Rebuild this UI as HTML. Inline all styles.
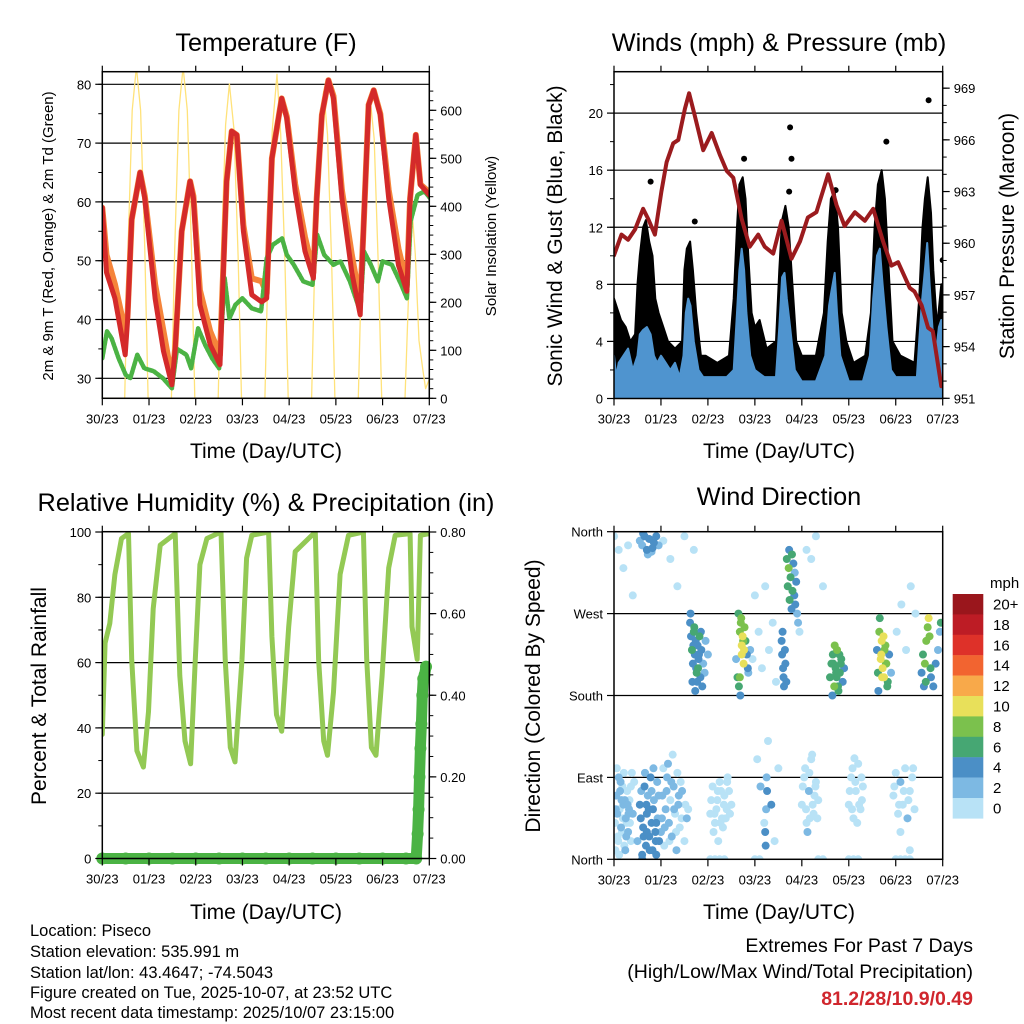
<!DOCTYPE html>
<html><head><meta charset="utf-8"><title>Piseco station meteogram</title>
<style>
html,body{margin:0;padding:0;background:#fff;}
svg{display:block;font-family:"Liberation Sans",Arial,sans-serif;}
</style></head>
<body>
<svg id="chart" width="1024" height="1024" viewBox="0 0 1024 1024">
<defs>
<clipPath id="c1"><rect x="102.3" y="71.7" width="327" height="326.6"/></clipPath>
<clipPath id="c2"><rect x="614" y="71.7" width="328.7" height="326.8"/></clipPath>
<clipPath id="c3"><rect x="102.3" y="531.7" width="327" height="328"/></clipPath>
<clipPath id="c4"><rect x="614" y="531.7" width="328.7" height="327.6"/></clipPath>
</defs>
<g id="root"></g>
<text x="266" y="51" font-size="25.3" text-anchor="middle">Temperature (F)</text>
<text x="779" y="51" font-size="25.3" text-anchor="middle">Winds (mph) &amp; Pressure (mb)</text>
<text x="266" y="511" font-size="25.3" text-anchor="middle">Relative Humidity (%) &amp; Precipitation (in)</text>
<text x="779" y="505" font-size="25.3" text-anchor="middle">Wind Direction</text>
<text x="266" y="458" font-size="21" text-anchor="middle">Time (Day/UTC)</text>
<text x="779" y="458" font-size="21" text-anchor="middle">Time (Day/UTC)</text>
<text x="266" y="919" font-size="21" text-anchor="middle">Time (Day/UTC)</text>
<text x="779" y="919" font-size="21" text-anchor="middle">Time (Day/UTC)</text>
<text transform="translate(53,236) rotate(-90)" font-size="15" text-anchor="middle">2m &amp; 9m T (Red, Orange) &amp; 2m Td (Green)</text>
<text transform="translate(496,236) rotate(-90)" font-size="15" text-anchor="middle">Solar Insolation (Yellow)</text>
<text transform="translate(562,236) rotate(-90)" font-size="21" text-anchor="middle">Sonic Wind &amp; Gust (Blue, Black)</text>
<text transform="translate(1014,236) rotate(-90)" font-size="21" text-anchor="middle">Station Pressure (Maroon)</text>
<text transform="translate(46,696) rotate(-90)" font-size="21" text-anchor="middle">Percent &amp; Total Rainfall</text>
<text transform="translate(540,696) rotate(-90)" font-size="21" text-anchor="middle">Direction (Colored By Speed)</text>
<g font-size="16.5">
<text x="30" y="936">Location: Piseco</text>
<text x="30" y="957">Station elevation: 535.991 m</text>
<text x="30" y="978">Station lat/lon: 43.4647; -74.5043</text>
<text x="30" y="998">Figure created on Tue, 2025-10-07, at 23:52 UTC</text>
<text x="30" y="1018">Most recent data timestamp: 2025/10/07 23:15:00</text>
</g>
<g font-size="19.5" text-anchor="end">
<text x="973" y="952">Extremes For Past 7 Days</text>
<text x="973" y="978">(High/Low/Max Wind/Total Precipitation)</text>
<text x="973" y="1005" fill="#d0262d" font-weight="bold">81.2/28/10.9/0.49</text>
</g>
</svg>
<script>
// ---- data ----
const dayLabels = ["30/23","01/23","02/23","03/23","04/23","05/23","06/23","07/23"];
const tempTicks = [30,40,50,60,70,80];
const solarTicks = [0,100,200,300,400,500,600];
const windTicks = [0,4,8,12,16,20];
const presTicks = [951,954,957,960,963,966,969];
const rhTicks = [0,20,40,60,80,100];
const precipTicks = [0,0.2,0.4,0.6,0.8];
const dirNames = ["North","East","South","West","North"];
const dirTicks = [0,90,180,270,360];

const tT = [0,0.09,0.27,0.49,0.54,0.63,0.81,0.91,1.13,1.31,1.49,1.56,1.7,1.88,1.95,2.09,2.31,2.52,2.66,2.77,2.88,3.02,3.2,3.41,3.52,3.63,3.84,3.95,4.13,4.34,4.52,4.59,4.7,4.84,4.95,5.13,5.34,5.52,5.59,5.7,5.81,5.95,6.13,6.34,6.52,6.59,6.71,6.81,7.02];
const redT = [59,48,43.6,34,39.7,57,65,60.6,43.6,34.6,28.9,35,55,63.5,60.6,42.5,35.7,32.3,63.5,72,71.4,55,44.2,43,43.6,67.4,77.6,74.2,61.8,51.6,47,60.6,74.8,80.7,77.6,60.6,48,40.8,55,76.5,79,74.8,60.6,49.2,44.8,60.6,71.4,62.9,61];
const orangeT = [59,51,46,38,40.5,57,65,61,46,38,30,35,55,63.5,61,45,38,34,63.5,72,71.4,56,47,46.5,44.5,67.4,77.6,74.5,63,54,48,60.6,74.8,80.7,78,62,51,43,55,76.5,79,75,62,52,46,60.6,71.4,63,61.5];
const tdT = [0,0.1,0.2,0.35,0.5,0.6,0.75,0.9,1.1,1.3,1.49,1.6,1.8,1.9,2.05,2.2,2.35,2.5,2.62,2.72,2.85,3.0,3.2,3.4,3.52,3.65,3.85,3.95,4.1,4.3,4.5,4.6,4.75,4.95,5.1,5.3,5.52,5.6,5.75,5.9,6.0,6.2,6.4,6.52,6.6,6.75,6.9,7.02];
const dewT = [33.4,38,36.8,33.4,30.6,30,34,31.7,31.2,30,28.3,35,34,31.7,38.5,35.7,33.4,31.7,47,40.2,42.5,43.6,41.9,41.4,50.4,52.7,53.8,51,49.3,46.5,45.9,54.4,51,49.3,49.9,46.5,41.4,51.6,49.3,46.5,49.9,49.3,45.9,43.6,56.7,61.2,61.8,60.6];
const solarT = [0,0.48,0.55,0.64,0.73,0.82,0.91,0.98,1.48,1.55,1.64,1.73,1.82,1.91,1.98,2.48,2.55,2.64,2.72,2.82,2.91,2.98,3.48,3.55,3.64,3.74,3.82,3.91,3.98,4.48,4.55,4.64,4.74,4.82,4.91,4.98,5.48,5.55,5.64,5.74,5.82,5.91,5.98,6.48,6.55,6.64,6.7,6.78,6.86,6.92,7.0];
const solarV = [0,0,310,600,690,600,310,0,0,310,600,690,600,310,0,0,300,570,655,560,290,0,0,290,560,675,550,280,0,0,290,560,640,550,280,0,0,280,550,620,540,270,0,0,200,380,300,120,60,20,40];

const presT = [0,0.16,0.3,0.45,0.62,0.73,0.87,1.01,1.12,1.26,1.37,1.51,1.6,1.72,1.9,2.08,2.26,2.4,2.54,2.72,2.89,3.07,3.21,3.39,3.57,3.78,3.96,4.13,4.31,4.56,4.74,4.91,5.13,5.34,5.52,5.73,5.91,6.05,6.3,6.4,6.55,6.69,6.79,6.97];
const presV = [959.3,960.5,960.2,960.8,962,961.4,960.5,963,964.7,965.8,966,967.8,968.7,967.4,965.4,966.4,965.1,964.2,963.8,961.4,959.8,960.5,959.8,959.4,961.3,959.1,960.1,961.5,961.8,964,962.2,961,961.8,961.3,962,960.1,958.7,958.9,957.4,957.2,956.4,955.1,954.9,951.7];
const windT = [0,0.05,0.1,0.2,0.3,0.4,0.5,0.55,0.62,0.7,0.78,0.85,0.92,1.0,1.1,1.2,1.3,1.4,1.48,1.53,1.58,1.63,1.7,1.8,1.9,2.0,2.2,2.4,2.55,2.62,2.67,2.72,2.77,2.82,2.9,3.0,3.2,3.45,3.52,3.58,3.63,3.68,3.75,3.85,4.0,4.3,4.5,4.58,4.63,4.7,4.75,4.82,5.0,5.3,5.45,5.52,5.6,5.66,5.72,5.8,5.9,6.0,6.2,6.45,6.5,6.55,6.62,6.67,6.72,6.78,6.85,6.92,6.97];
const windV = [3,1.5,2.5,3,3.5,2,3,4.5,4.8,5,4.5,3,2.5,3,2.5,2,2.5,1.5,3,6,7,6.5,4,2,1.5,1.5,1.5,1.5,2,6,9,10.5,9,6,3,2,1.5,1.5,5,8.5,8.8,7,5,2,1.2,1.2,3,6.5,7.5,8.8,6,3,1.2,1.2,3,7,10,10.5,8,5,2,1.5,1.5,1.5,4,6.5,9,10.9,8,5,3,5,5.5];
const gustT = [0,0.05,0.15,0.25,0.35,0.45,0.5,0.55,0.62,0.68,0.75,0.82,0.88,0.95,1.05,1.15,1.3,1.45,1.5,1.55,1.62,1.68,1.75,1.85,1.95,2.2,2.45,2.55,2.62,2.67,2.74,2.8,2.86,2.93,3.0,3.1,3.25,3.45,3.52,3.58,3.65,3.72,3.8,3.88,4.0,4.3,4.47,4.55,4.62,4.7,4.77,4.85,4.95,5.1,5.35,5.47,5.55,5.62,5.7,5.77,5.85,5.93,6.1,6.4,6.5,6.57,6.62,6.68,6.75,6.8,6.88,6.97];
const gustV = [7,6.5,5.5,5,4,4.5,8,10,12,12.5,11,10,7,6,5,4,3.5,4,9,10.5,11,9,6,3,3,2.5,3,7,12,15,15.5,14,10,6,5,5.5,3.5,4,9,12.5,13.5,12,8,4,3,3,6,11,14,14.5,12,6,4,2.5,3,6,12,15,16,14,9,4,3,2.5,7,12,14,15.5,13,9,5,8];
const gustOutT = [0.78,1.72,2.77,3.75,3.78,5.8,6.7,7.0,3.73,4.72];
const gustOutV = [15.2,12.4,16.8,19,16.8,18,20.9,9.7,14.5,14.6];

const rhT = [0,0.06,0.16,0.27,0.41,0.56,0.63,0.74,0.88,0.99,1.09,1.24,1.56,1.66,1.77,1.89,1.99,2.09,2.24,2.54,2.63,2.74,2.84,2.99,3.09,3.2,3.56,3.63,3.73,3.84,3.99,4.13,4.56,4.63,4.74,4.82,4.95,5.09,5.27,5.59,5.66,5.76,5.86,5.99,6.13,6.27,6.59,6.63,6.74,6.81,7.0];
const rhV = [38,66,72,87,98,99.5,61,33,28,45,76.5,96,99.5,56,36,29,61,90,98,100,61,34,29.6,61,92,99,100,68,44,39,71,94,100,61,36,31.6,51,87,99,100,61,34,31.6,56,89,99,99.5,71,61,99,99.5];
const precipT = [0,0.5,1,1.5,2,2.5,3,3.5,4,4.5,5,5.5,6,6.5,6.72,6.75,6.77,6.79,6.81,6.83,6.85,6.87,6.9,6.93];
const precipV = [0,0,0,0,0,0,0,0,0,0,0,0,0,0,0,0.06,0.12,0.2,0.27,0.33,0.4,0.44,0.45,0.47];

const wdT = [0.02,0.05,0.08,0.1,0.12,0.15,0.18,0.2,0.22,0.25,0.28,0.3,0.33,0.36,0.4,0.43,0.03,0.07,0.13,0.17,0.23,0.27,0.32,0.38,
0.5,0.55,0.6,0.62,0.65,0.68,0.7,0.72,0.75,0.78,0.8,0.82,0.85,0.88,0.9,0.93,0.96,0.58,0.66,0.74,0.84,0.92,
1.0,1.03,1.07,1.1,1.13,1.17,1.2,1.23,1.27,1.3,1.33,1.37,1.4,1.45,1.5,1.55,1.05,1.15,1.25,1.35,1.42,1.58,
0.55,0.6,0.65,0.7,0.75,0.8,0.85,0.9,0.95,0.62,0.72,0.82,
0.0,0.1,0.2,0.3,0.4,1.05,1.2,1.35,1.5,1.7,
1.62,1.64,1.66,1.68,1.7,1.72,1.74,1.76,1.78,1.8,1.82,1.84,1.86,1.9,1.95,2.0,1.67,1.73,1.79,1.85,1.63,1.88,1.93,
2.05,2.1,2.15,2.2,2.25,2.3,2.35,2.4,2.45,2.5,2.12,2.22,2.32,2.42,2.18,2.28,2.38,
2.6,2.63,2.66,2.68,2.7,2.72,2.74,2.76,2.78,2.8,2.83,2.86,2.9,2.95,2.65,2.71,2.77,2.85,2.69,
3.0,3.08,3.15,3.22,3.3,3.38,3.45,3.05,3.12,3.2,3.28,3.35,3.42,3.5,
3.57,3.58,3.6,3.61,3.62,3.64,3.65,3.67,3.59,3.22,3.24,3.26,3.25,3.23,
3.68,3.7,3.72,3.74,3.76,3.78,3.8,3.82,3.84,3.86,3.88,3.9,3.73,3.79,3.85,3.92,3.95,
4.0,4.05,4.1,4.15,4.2,4.25,4.3,4.35,4.07,4.17,4.27,4.12,4.22,4.1,4.2,4.3,4.45,
4.6,4.63,4.66,4.69,4.72,4.75,4.78,4.81,4.84,4.87,4.9,4.65,4.7,4.8,4.74,
5.0,5.05,5.1,5.15,5.2,5.25,5.3,5.08,5.18,5.28,5.12,
5.6,5.62,5.65,5.68,5.7,5.72,5.75,5.78,5.8,5.83,5.86,5.9,5.66,5.74,5.82,5.63,
5.95,6.0,6.05,6.1,6.15,6.2,6.25,6.3,6.35,6.4,6.02,6.12,6.22,6.32,6.42,6.1,6.3,
6.55,6.58,6.6,6.62,6.65,6.68,6.7,6.72,6.75,6.8,6.85,6.9,6.94,6.64,6.74,6.96,
2.05,2.15,2.25,2.35,3.0,3.1,4.35,4.45,5.0,5.1,5.2,6.0,6.1,6.2,6.3];
const wdDir = [40,70,25,90,55,35,80,60,15,45,75,30,65,20,50,85,10,50,75,30,65,40,55,95,
20,60,5,35,80,15,50,70,25,90,40,10,65,30,5,45,20,75,95,55,100,85,
30,70,15,55,90,40,65,25,80,50,10,60,35,75,20,45,100,105,115,95,85,55,
350,345,355,340,352,338,348,355,345,358,335,342,
355,340,320,345,290,350,330,300,355,340,
260,245,230,215,250,225,240,205,235,220,245,200,230,215,240,225,195,185,210,250,270,190,205,
50,80,40,65,85,45,70,55,75,60,30,20,35,90,55,75,45,
220,200,190,250,260,235,245,215,255,240,225,205,230,220,270,265,230,210,180,
290,250,210,300,230,260,195,110,80,40,130,60,20,100,
240,225,210,200,190,230,215,195,250,30,55,75,90,15,
330,300,320,285,310,275,295,325,290,280,305,270,340,335,315,260,250,
60,90,40,75,110,50,85,65,100,45,70,30,115,340,330,355,300,
200,215,225,190,210,230,185,205,220,195,210,180,235,225,200,
60,90,45,75,105,55,80,100,40,65,111,
230,205,250,220,240,210,200,235,215,195,225,205,265,245,190,185,
70,95,50,85,60,100,45,75,90,55,250,280,230,300,270,30,10,
205,225,190,215,240,255,265,245,200,190,215,230,250,195,210,260,
0,0,0,0,0,0,0,0,0,0,0,0,0,0,0];
const wdSpd = [0,2,0,2,0,2,0,2,0,2,0,2,0,0,2,0,0,2,2,0,2,0,2,0,
2,4,4,4,4,4,4,2,4,4,4,4,2,4,4,2,4,2,2,4,2,2,
2,2,0,2,2,2,0,2,2,0,2,2,0,2,0,2,0,2,0,0,0,0,
2,2,4,4,4,2,4,4,2,4,2,4,
0,0,0,0,0,0,0,0,0,0,
4,4,6,4,6,4,4,6,4,4,6,4,4,2,2,2,4,4,6,4,4,4,2,
0,0,0,0,0,0,0,0,0,0,0,0,0,0,0,0,0,
2,6,6,8,8,10,10,10,8,6,4,2,2,0,6,8,10,4,4,
0,0,0,0,0,0,0,0,2,0,0,4,0,0,
4,4,4,4,4,4,4,4,4,4,2,4,2,4,
6,6,8,6,6,4,6,4,4,4,4,2,4,6,2,2,0,
0,0,0,2,0,0,0,0,0,0,0,2,0,0,0,0,0,
6,6,6,8,6,8,6,6,6,4,4,4,8,6,6,
0,0,0,0,0,0,0,0,0,0,0,
4,6,8,10,10,10,10,8,8,6,4,2,6,10,6,4,
0,0,0,2,0,0,2,0,0,0,0,0,0,0,0,0,0,
4,6,4,8,8,8,10,8,4,4,4,2,2,6,6,6,
0,0,0,0,0,0,0,0,0,0,0,0,0,0,0];
const wdT2 = [0.04,0.09,0.14,0.19,0.24,0.29,0.34,0.06,0.16,0.26,0.36,0.11,0.21,0.31,
0.57,0.63,0.69,0.76,0.83,0.89,0.95,0.6,0.7,0.8,0.9,
1.02,1.08,1.12,1.18,1.22,1.28,1.32,1.38,1.44,1.52,
2.07,2.14,2.21,2.27,2.34,2.41,2.47,
4.02,4.09,4.16,4.23,4.29,4.33,
5.02,5.07,5.14,5.22,5.27,
5.97,6.07,6.17,6.27,6.37,
1.69,1.75,1.81,1.71,1.77,2.72,2.75,2.68,4.67,4.73,4.77,4.83,5.69,5.71,5.76,5.79];
const wdDir2 = [55,20,85,45,10,60,40,100,65,25,80,5,95,50,
45,25,60,10,55,20,70,0,30,75,40,
45,35,75,20,85,55,30,70,45,60,
65,50,75,40,60,85,50,
80,55,95,60,80,45,
75,55,85,60,90,
80,60,75,65,100,
235,210,225,255,195,225,240,200,215,205,190,215,225,200,230,215];
const wdSpd2 = [2,0,2,0,2,2,0,0,2,2,0,0,0,2,
4,4,4,4,4,4,2,4,4,2,4,
2,2,2,0,2,2,0,2,0,0,
0,0,0,0,0,0,0,
0,0,0,0,0,0,
0,0,0,0,0,
0,0,0,0,0,
4,4,4,6,4,10,8,8,6,6,6,6,10,10,8,8];
const cbLabels = ["20+","18","16","14","12","10","8","6","4","2","0"];
const cbColors = ["#9a161c","#bd1c25","#de3129","#f26430","#f8a94a","#e8e05a","#7bc14d","#46a773","#4b8fc6","#7db9e3","#b8e2f6"];

// ---- axes ----
const NS="http://www.w3.org/2000/svg";
const root=document.getElementById('root');
function mk(tag,attrs,parent){const e=document.createElementNS(NS,tag);for(const k in attrs)e.setAttribute(k,attrs[k]);(parent||root).appendChild(e);return e;}
const P1={x0:102.3,x1:429.3,y0:71.7,y1:398.3};
const P2={x0:614,x1:942.7,y0:71.7,y1:398.5};
const P3={x0:102.3,x1:429.3,y0:531.7,y1:858.5};
const P4={x0:614,x1:942.7,y0:531.7,y1:859.3};
function xs(P,t){return P.x0+t*(P.x1-P.x0)/7;}
const yTemp=v=>84.3+(80-v)*5.88;
const ySolar=v=>398.3-v*0.48;
const yWind=v=>398.5-v*14.27;
const yPres=v=>398.3-(v-951)*17.23;
const yRH=v=>858.5-v*3.265;
const yPrec=v=>858.5-v*125*3.265;
const yDir=v=>859.3-v*0.91;

function grid(P,vals,f,name){vals.forEach(v=>{const y=f(v);if(y>P.y0+1&&y<P.y1-1){const l=mk('line',{x1:P.x0,x2:P.x1,y1:y,y2:y,stroke:'#000','stroke-width':1.2});

}});}
function frame(P,name){const r=mk('rect',{x:P.x0,y:P.y0,width:P.x1-P.x0,height:P.y1-P.y0,fill:'none',stroke:'#000','stroke-width':1.5});


for(let i=0;i<=7;i++){const x=xs(P,i);mk('line',{x1:x,x2:x,y1:P.y1,y2:P.y1+7,stroke:'#000','stroke-width':1.2});mk('line',{x1:x,x2:x,y1:P.y0,y2:P.y0-6,stroke:'#000','stroke-width':1.2});
const t=mk('text',{x:x,y:P.y1+25,'font-size':13,'text-anchor':'middle'});t.textContent=dayLabels[i];

}}
function yaxis(P,vals,f,side,labels,minor,name){const x=side<0?P.x0:P.x1;
minor.forEach(v=>{const y=f(v);if(y>=P.y0-0.5&&y<=P.y1+0.5)mk('line',{x1:x,x2:x+side*4,y1:y,y2:y,stroke:'#000','stroke-width':1});});
vals.forEach((v,i)=>{const y=f(v);mk('line',{x1:x,x2:x+side*7,y1:y,y2:y,stroke:'#000','stroke-width':1.2});
const t=mk('text',{x:side<0?x-11:x+11,y:y+5,'font-size':13,'text-anchor':side<0?'end':'start'});t.textContent=labels[i];

});}
function line(ts,vs,P,f,style,name,clip){const d=ts.map((t,i)=>(i?'L':'M')+xs(P,t).toFixed(1)+','+f(vs[i]).toFixed(1)).join('');
const a=Object.assign({d:d,fill:'none','stroke-linejoin':'round','stroke-linecap':'round'},style);
if(clip)a['clip-path']='url(#'+clip+')';
const p=mk('path',a);

return p;}
function area(ts,vs,P,f,fill,name,clip){let d='M'+xs(P,ts[0])+','+f(0);ts.forEach((t,i)=>{d+='L'+xs(P,t).toFixed(1)+','+f(vs[i]).toFixed(1);});d+='L'+xs(P,ts[ts.length-1])+','+f(0)+'Z';
const p=mk('path',{d:d,fill:fill,stroke:fill,'stroke-width':2,'stroke-linejoin':'round','clip-path':'url(#'+clip+')'});

}
const range=(a,b,s)=>{const r=[];for(let v=a;v<=b+1e-9;v+=s)r.push(+v.toFixed(3));return r;};

// Panel 1
grid(P1,tempTicks,yTemp,'temperature-gridline');
line(solarT,solarV,P1,ySolar,{stroke:'#ffe27a','stroke-width':1.3},'solar-insolation-line','c1');
line(tT,orangeT,P1,yTemp,{stroke:'#f5843a','stroke-width':6},'temp-9m-line','c1');
line(tdT,dewT,P1,yTemp,{stroke:'#4bb344','stroke-width':4.5,'stroke-dasharray':'3 1.5'},'dewpoint-2m-line','c1');
line(tT,redT,P1,yTemp,{stroke:'#d42a2a','stroke-width':5},'temp-2m-line','c1');
frame(P1,'temperature-plot-frame');
yaxis(P1,tempTicks,yTemp,-1,tempTicks.map(String),range(30,80,5),'temperature-y-tick');
yaxis(P1,solarTicks,ySolar,1,solarTicks.map(String),range(0,640,20),'solar-y-tick');

// Panel 2
grid(P2,windTicks,yWind,'wind-gridline');
area(gustT,gustV,P2,yWind,'#000','gust-cloud','c2');
gustOutT.forEach((t,i)=>{const c=mk('circle',{cx:xs(P2,t),cy:yWind(gustOutV[i]),r:3,fill:'#000','clip-path':'url(#c2)'});

});
area(windT,windV,P2,yWind,'#4f94cf','wind-speed-area','c2');
line(presT,presV,P2,yPres,{stroke:'#9b1b1e','stroke-width':4},'pressure-line','c2');
frame(P2,'winds-plot-frame');
yaxis(P2,windTicks,yWind,-1,windTicks.map(String),range(0,22,2),'wind-y-tick');
yaxis(P2,presTicks,yPres,1,presTicks.map(String),range(951,969,1),'pressure-y-tick');

// Panel 3
grid(P3,rhTicks,yRH,'humidity-gridline');
line(rhT,rhV,P3,yRH,{stroke:'#93c954','stroke-width':5},'relative-humidity-line','c3');
line(precipT,precipV,P3,yPrec,{stroke:'#4bb344','stroke-width':11},'precip-line',null);
precipT.forEach((t,i)=>{const c=mk('circle',{cx:xs(P3,t),cy:yPrec(precipV[i]),r:6,fill:'#4bb344'});

});
frame(P3,'humidity-plot-frame');
yaxis(P3,rhTicks,yRH,-1,rhTicks.map(String),range(0,100,10),'humidity-y-tick');
yaxis(P3,precipTicks,yPrec,1,precipTicks.map(v=>v.toFixed(2)),range(0,0.8,0.05),'precip-y-tick');

// Panel 4
grid(P4,dirTicks,yDir,'direction-gridline');
const allT=wdT.concat(wdT2), allD=wdDir.concat(wdDir2), allS=wdSpd.concat(wdSpd2);
const order=allS.map((s,i)=>i).sort((a,b)=>allS[a]-allS[b]);
order.forEach(i=>{const ci=10-Math.min(10,Math.round(allS[i]/2));
const c=mk('circle',{cx:xs(P4,allT[i]),cy:yDir(allD[i]),r:4,fill:cbColors[ci],'clip-path':'url(#c4)'});

});
frame(P4,'direction-plot-frame');
yaxis(P4,dirTicks,yDir,-1,dirNames,[],'direction-y-tick');

// colorbar
const mph=mk('text',{x:990,y:588,'font-size':15});mph.textContent='mph';


cbLabels.forEach((lab,i)=>{const y=594+i*20.4;
const r=mk('rect',{x:952.7,y:y,width:30.6,height:20.6,fill:cbColors[i]});


const t=mk('text',{x:993,y:y+15.5,'font-size':15});t.textContent=lab;

});
</script>
</body></html>
